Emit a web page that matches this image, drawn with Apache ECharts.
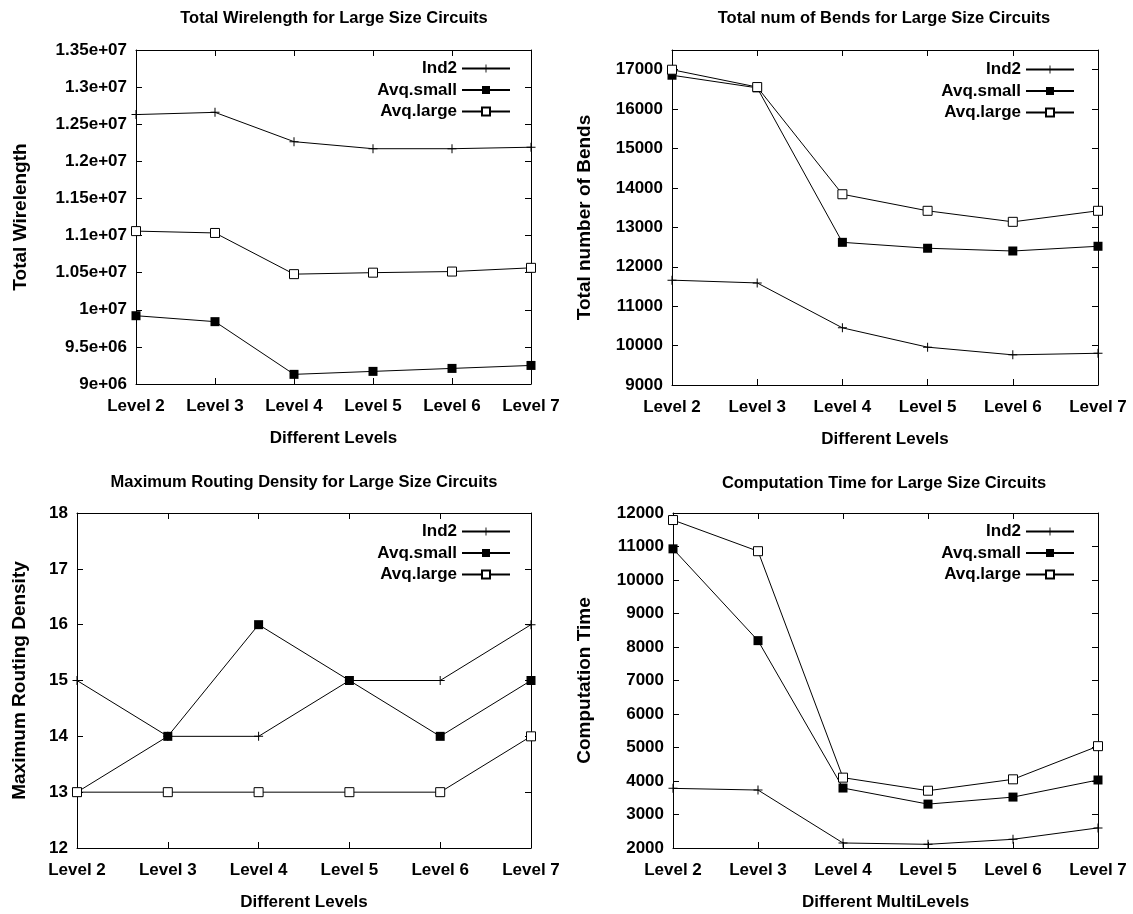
<!DOCTYPE html>
<html>
<head>
<meta charset="utf-8">
<script src="https://cdn.jsdelivr.net/npm/echarts@6/dist/echarts.min.js"></script>
<style>
  html, body { margin: 0; padding: 0; background: #fff; }
  #chart { width: 1133px; height: 914px; }
</style>
</head>
<body>
<div id="chart"></div>
<script>
// Categories shared by all four panels
const levels = ['Level 2', 'Level 3', 'Level 4', 'Level 5', 'Level 6', 'Level 7'];
const seriesNames = ['Ind2', 'Avq.small', 'Avq.large'];

// Total wirelength
const wireInd2  = [12630000, 12660000, 12265000, 12170000, 12170000, 12190000];
const wireSmall = [9920000, 9840000, 9130000, 9170000, 9210000, 9250000];
const wireLarge = [11060000, 11035000, 10480000, 10500000, 10515000, 10565000];
const wireTickLabels = ['9e+06', '9.5e+06', '1e+07', '1.05e+07', '1.1e+07', '1.15e+07',
                        '1.2e+07', '1.25e+07', '1.3e+07', '1.35e+07'];

// Total number of bends
const bendsInd2  = [11660, 11590, 10450, 9960, 9765, 9805];
const bendsSmall = [16860, 16540, 12620, 12470, 12400, 12520];
const bendsLarge = [17000, 16560, 13840, 13420, 13140, 13420];

// Maximum routing density
const densInd2  = [15, 14, 14, 15, 15, 16];
const densSmall = [13, 14, 16, 15, 14, 15];
const densLarge = [13, 13, 13, 13, 13, 14];

// Computation time
const timeInd2  = [3780, 3730, 2150, 2110, 2260, 2600];
const timeSmall = [10930, 8190, 3790, 3310, 3520, 4030];
const timeLarge = [11790, 10860, 4100, 3710, 4050, 5040];

const FONT = '"Liberation Sans", Arial, Helvetica, sans-serif';
const PLUS = 'path://M4,0H5V4H9V5H5V9H4V5H0V4H4Z';

const panels = [
  { title: 'Total Wirelength for Large Size Circuits', tx: 334, ty: 18,
    grid: { left: 136, top: 50, width: 395, height: 334 },
    yName: 'Total Wirelength', yGap: 106, xName: 'Different Levels',
    min: 9000000, max: 13500000, interval: 500000,
    fmt: v => wireTickLabels[Math.round((v - 9000000) / 500000)],
    data: [wireInd2, wireSmall, wireLarge], legend: { right: 622, top: 60 } },
  { title: 'Total num of Bends for Large Size Circuits', tx: 884, ty: 18,
    grid: { left: 672, top: 50, width: 426, height: 335 },
    yName: 'Total number of Bends', yGap: 78, xName: 'Different Levels',
    min: 9000, max: 17500, interval: 1000, hideMax: true,
    data: [bendsInd2, bendsSmall, bendsLarge], legend: { right: 58, top: 61 } },
  { title: 'Maximum Routing Density for Large Size Circuits', tx: 304, ty: 482,
    grid: { left: 77, top: 513, width: 454, height: 335 },
    yName: 'Maximum Routing Density', yGap: 48, xName: 'Different Levels',
    min: 12, max: 18, interval: 1,
    data: [densInd2, densSmall, densLarge], legend: { right: 622, top: 523 } },
  { title: 'Computation Time for Large Size Circuits', tx: 884, ty: 483,
    grid: { left: 673, top: 513, width: 425, height: 335 },
    yName: 'Computation Time', yGap: 79, xName: 'Different MultiLevels',
    min: 2000, max: 12000, interval: 1000,
    data: [timeInd2, timeSmall, timeLarge], legend: { right: 58, top: 523 } }
];

const axisLine = { show: true, lineStyle: { color: '#000', width: 1 } };
const axisTick = { show: true, inside: true, length: 6, lineStyle: { color: '#000', width: 1 } };
const labelStyle = { color: '#000', fontFamily: FONT, fontWeight: 'bold', fontSize: 17 };
const yNameStyle = { color: '#000', fontFamily: FONT, fontWeight: 'bold', fontSize: 19 };

const styles = [
  { symbol: PLUS, symbolSize: 9, itemStyle: { color: '#000' } },
  { symbol: 'rect', symbolSize: 9, itemStyle: { color: '#000' } },
  { symbol: 'rect', symbolSize: 9, itemStyle: { color: '#fff', borderColor: '#000', borderWidth: 1 } }
];

const option = {
  animation: false,
  backgroundColor: '#fff',
  grid: [], xAxis: [], yAxis: [], series: [], legend: [], graphic: []
};

panels.forEach((p, i) => {
  option.grid.push(Object.assign({ containLabel: false }, p.grid));
  option.graphic.push({
    type: 'text', x: p.tx, y: p.ty,
    style: { text: p.title, fill: '#000', font: 'bold 16.5px ' + FONT,
             textAlign: 'center', textVerticalAlign: 'middle' }
  });
  // bottom and mirrored top category axes
  option.xAxis.push({
    type: 'category', gridIndex: i, data: levels, boundaryGap: false, position: 'bottom',
    axisLine, axisTick, splitLine: { show: false },
    axisLabel: Object.assign({ margin: 14, interval: 0 }, labelStyle),
    name: p.xName, nameLocation: 'middle', nameGap: 46,
    nameTextStyle: labelStyle
  });
  option.xAxis.push({
    type: 'category', gridIndex: i, data: levels, boundaryGap: false, position: 'top',
    axisLine, axisTick, splitLine: { show: false }, axisLabel: { show: false }
  });
  // left and mirrored right value axes
  option.yAxis.push({
    type: 'value', gridIndex: i, min: p.min, max: p.max, interval: p.interval, position: 'left',
    axisLine, axisTick, splitLine: { show: false },
    axisLabel: Object.assign({ margin: 9, showMaxLabel: !p.hideMax,
      formatter: p.fmt || (v => String(v)) }, labelStyle),
    name: p.yName, nameLocation: 'middle', nameGap: p.yGap,
    nameTextStyle: yNameStyle
  });
  option.yAxis.push({
    type: 'value', gridIndex: i, min: p.min, max: p.max, interval: p.interval, position: 'right',
    axisLine, axisTick, splitLine: { show: false }, axisLabel: { show: false }
  });
  p.data.forEach((d, k) => {
    option.series.push(Object.assign({
      type: 'line', name: seriesNames[k], data: d,
      xAxisIndex: 2 * i, yAxisIndex: 2 * i,
      showSymbol: true, lineStyle: { color: '#000', width: 1 }
    }, styles[k]));
  });
  option.legend.push({
    orient: 'vertical', align: 'right', right: p.legend.right, top: p.legend.top,
    padding: 0, itemGap: 4.5, itemWidth: 48, itemHeight: 10,
    selectedMode: false, data: seriesNames,
    textStyle: Object.assign({ lineHeight: 16 }, labelStyle)
  });
});

const chart = echarts.init(document.getElementById('chart'), null, { renderer: 'canvas' });
chart.setOption(option);
</script>
</body>
</html>
